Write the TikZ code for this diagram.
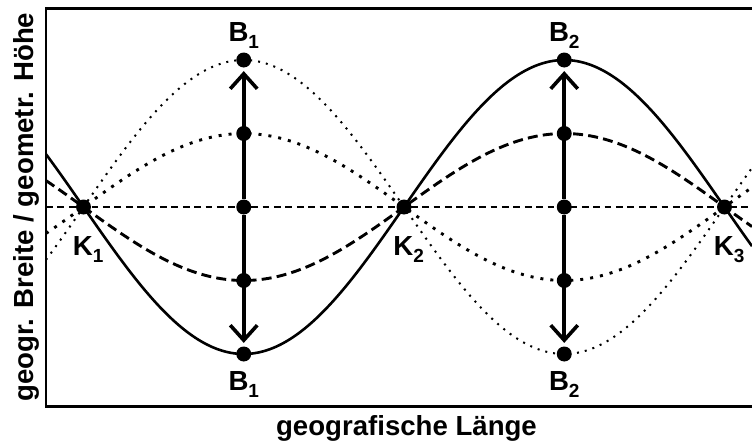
\documentclass[tikz,border=0pt]{standalone}
\usepackage{fontspec}
\setmainfont{Liberation Sans}
\usetikzlibrary{arrows.meta,positioning}
\newcommand{\idx}[1]{\raisebox{-3.5pt}{\fontsize{9.5}{11}\selectfont#1}}
\tikzset{
  every node/.style={font=\bfseries\fontsize{13.8}{16}\selectfont,inner sep=0pt},
  bigdot/.style={circle,fill=black,minimum size=7.5pt,inner sep=0pt},
  axisline/.style={line width=1.4pt},
  wave/.style={line width=1.3pt},
  halfwave/.style={line width=1.45pt,dash pattern=on 5pt off 2.6pt},
  antiwave/.style={line width=1.45pt,dash pattern=on 1.5pt off 3.5pt},
  fullanti/.style={line width=1pt,dash pattern=on 1pt off 3pt},
  zeroline/.style={line width=1.4pt,dash pattern=on 3.4pt off 2.3pt},
  swing/.style={-{Straight Barb[length=7.5pt,width=13.5pt]},line width=1.8pt,shorten >=1.6pt},
}

\begin{document}
\begin{tikzpicture}[x=0.5pt,y=-0.5pt]
\useasboundingbox (0,0) rectangle (752,445);
% curves, cut at the frame
\begin{scope}
\clip (46,8.5) rectangle (752,406.5);
\draw[zeroline] (46,207) -- (752,207);
\draw[fullanti] plot[domain=46:752,samples=150,smooth] (\x,{207-147*sin((\x-83.5)/320.5*180)});
\draw[antiwave] plot[domain=46:752,samples=150,smooth] (\x,{207-73.5*sin((\x-83.5)/320.5*180)});
\draw[halfwave] plot[domain=46:752,samples=150,smooth] (\x,{207+73.5*sin((\x-83.5)/320.5*180)});
\draw[wave] plot[domain=46:752,samples=150,smooth] (\x,{207+147*sin((\x-83.5)/320.5*180)});
\end{scope}
\draw[axisline] (752,8.5) -- (46,8.5) -- (46,406.5) -- (752,406.5);
% nodes on the axis
\node[bigdot] (k1) at (83.5,207) {};
\node[bigdot] (k2) at (404,207) {};
\node[bigdot] (k3) at (724.5,207) {};
\foreach \i in {1,2,3}
  \node[below=20.3pt of k\i,anchor=base,xshift=2.3pt] (klab\i) {K\idx{\i}};
% bellies
\foreach \i/\bx in {1/243.75,2/564.25} {
  \node[bigdot] (top\i) at (\bx,60) {};
  \node[bigdot] (up\i) at (\bx,133.5) {};
  \node[bigdot] (mid\i) at (\bx,207) {};
  \node[bigdot] (low\i) at (\bx,280.5) {};
  \node[bigdot] (bot\i) at (\bx,354) {};
  \draw[swing] (mid\i) -- (top\i);
  \draw[swing] (mid\i) -- (bot\i);
  \node[above=5.4pt of top\i,anchor=base] (toplab\i) {B\idx{\i}};
  \node[below=14.3pt of bot\i,anchor=base] (botlab\i) {B\idx{\i}};
}
% axis titles
\node[anchor=base,rotate=90] (ylab) at (33,207) {geogr. Breite / geometr. Höhe};
\node[anchor=base] (xlab) at (406.5,435) {geografische Länge};
\end{tikzpicture}
\end{document}
